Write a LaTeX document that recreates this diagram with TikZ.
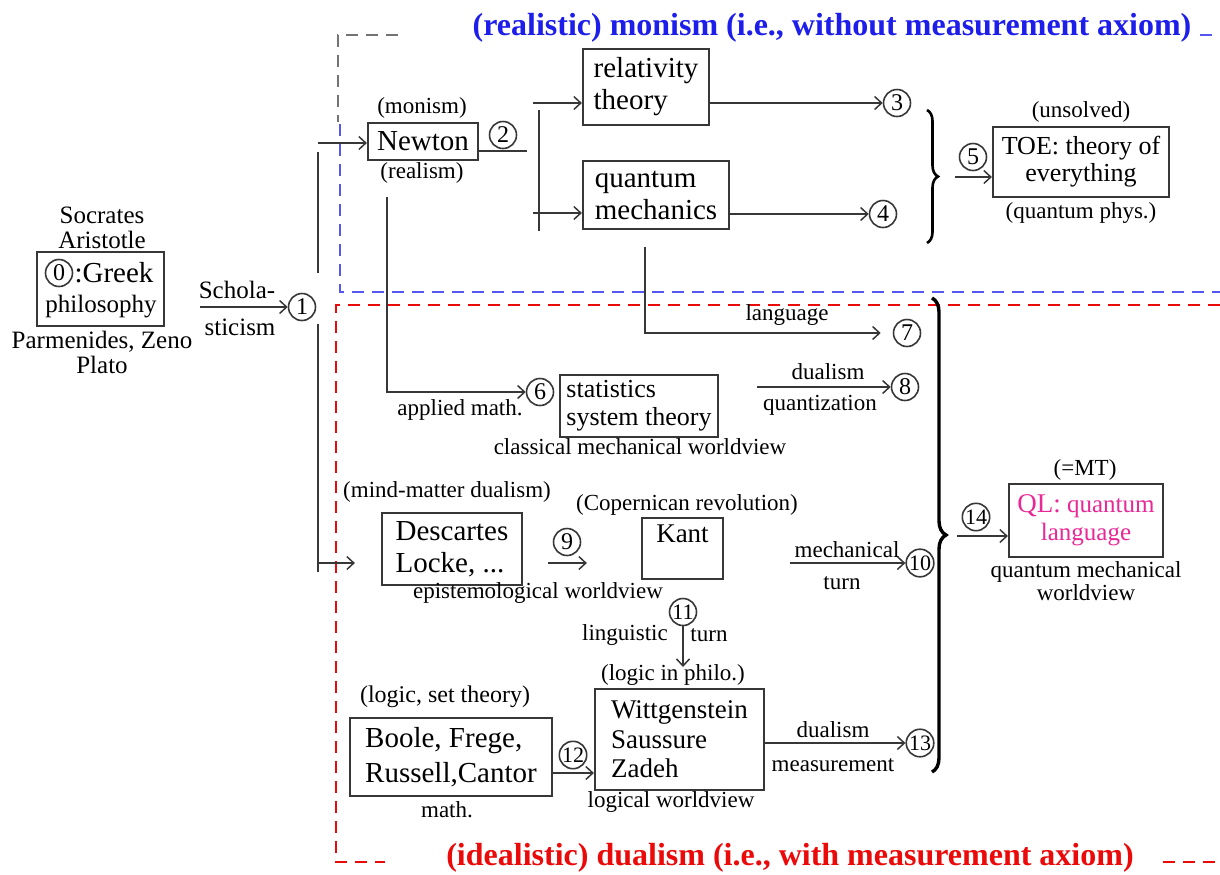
\documentclass[tikz,border=0pt]{standalone}
\usepackage{fontspec}
\setmainfont{Liberation Serif}
\usetikzlibrary{arrows.meta,decorations.pathreplacing}
\definecolor{monblue}{RGB}{30,30,235}
\definecolor{dualred}{RGB}{235,10,10}
\definecolor{qlpink}{RGB}{232,40,150}
\definecolor{frame}{RGB}{55,55,55}
\begin{document}
\begin{tikzpicture}[x=0.5pt, y=-0.5pt,
  box/.style={draw=frame, line width=1.1pt, inner xsep=0pt, inner ysep=0pt},
  num/.style={circle, draw=frame, line width=0.8pt, inner sep=0.2pt, minimum size=13.5pt, font=\fontsize{12}{12}\selectfont},
  numw/.style={num, font=\fontsize{11}{11}\selectfont},
  arr/.style={draw=frame, line width=0.75pt, -{Straight Barb[length=3.5pt,width=6.5pt]}},
  conn/.style={draw=frame, line width=0.75pt},
  bigtxt/.style={font=\fontsize{14.5}{16}\selectfont},
  midtxt/.style={font=\fontsize{12.5}{14}\selectfont},
  lbl/.style={font=\fontsize{11.5}{13}\selectfont, inner sep=0pt},
  zone/.style={line width=1.1pt, dash pattern=on 6pt off 4pt},
  brc/.style={decorate, decoration={brace, amplitude=#1}, line width=1.3pt}]
  % Coordenadas em pixels do original (y para baixo): caixa azul = monismo, caixa
  % vermelha = dualismo; as chavetas juntam os numeros que desaguam em TOE e em QL.
  \useasboundingbox (0,0) rectangle (1220,874);
  \draw[zone, black!55] (398,35) -- (338,35) -- (338,122);
  \draw[zone, monblue!75] (340,124) -- (340,292) -- (1220,292);
  \draw[zone, monblue!75] (1200,35) -- (1220,35);
  \draw[zone, dualred] (1220,305) -- (336,305) -- (336,862) -- (385,862);
  \draw[zone, dualred] (1163,862) -- (1220,862);
  \node[font=\fontsize{16}{18}\selectfont\bfseries, text=monblue] (tmon) at (832,28) {(realistic) monism (i.e., without measurement axiom)};
  \node[font=\fontsize{16}{18}\selectfont\bfseries, text=dualred] (tdual) at (790,858) {(idealistic) dualism (i.e., with measurement axiom)};

  % Greek philosophy
  \node[midtxt] (socr) at (102,215) {Socrates};
  \node[midtxt] (arist) at (102,240) {Aristotle};
  \node[box, minimum width=63.5pt, minimum height=37pt] (greek) at (100.5,289) {};
  \node[num] (c0) at (59,273) {0};
  \node[bigtxt, inner sep=0pt] (greekt) at (114,273) {:Greek};
  \node[midtxt, inner sep=0pt] (philo) at (101,307) {philosophy};
  \node[midtxt] (parm) at (102,342) {Parmenides, Zeno};
  \node[midtxt] (plato) at (102,365) {Plato};
  \node[midtxt] (schola) at (237,290) {Schola-};
  \node[midtxt] (stic) at (240,327) {sticism};
  \node[num] (c1) at (302,307) {1};
  \coordinate (schA) at (200,307);
  \draw[arr] (schA) -- (c1);
  \coordinate (tkA) at (318,152);
  \coordinate (tkB) at (318,273);
  \coordinate (tkC) at (318,324);
  \coordinate (tkD) at (318,572);
  \draw[conn] (tkA) -- (tkB);
  \draw[conn] (tkC) -- (tkD);

  % Newton and the monistic branch
  \node[lbl] (monism) at (422,108) {(monism)};
  \node[box, bigtxt, minimum width=55pt, minimum height=18.5pt] (newton) at (423,141.5) {Newton};
  \node[lbl] (realism) at (422,173) {(realism)};
  \coordinate (nwA) at (318,143);
  \draw[arr] (nwA) -- (nwA -| newton.west);
  \node[num] (c2) at (503,135) {2};
  \coordinate (n2) at (527,151);
  \draw[conn] (n2 -| newton.east) -- (n2);
  \coordinate (fkT) at (539,110);
  \coordinate (fkB) at (539,231);
  \draw[conn] (fkT) -- (fkB);
  \node[box, bigtxt, align=left, minimum width=63pt, minimum height=38pt] (relat) at (646,87) {relativity\\theory};
  \node[box, bigtxt, align=left, minimum width=73pt, minimum height=34pt] (qmech) at (656,195) {quantum\\mechanics};
  \coordinate (fkA) at (533,103);
  \coordinate (fkC) at (533,213);
  \draw[arr] (fkA) -- (fkA -| relat.west);
  \draw[arr] (fkC) -- (fkC -| qmech.west);
  \node[num] (c3) at (897,103) {3};
  \node[num] (c4) at (883,214) {4};
  \draw[arr] (c3 -| relat.east) -- (c3);
  \draw[arr] (c4 -| qmech.east) -- (c4);
  \coordinate (bAT) at (927,110);
  \coordinate (bAB) at (927,243);
  \draw[brc=5.5pt] (bAT) -- (bAB);
  \node[lbl] (unsolved) at (1081,112) {(unsolved)};
  \node[box, align=center, font=\fontsize{13}{13.5}\selectfont, minimum width=88pt, minimum height=35pt] (toe) at (1081,162) {TOE: theory of\\everything};
  \node[lbl] (qphys) at (1081,213) {(quantum phys.)};
  \node[num] (c5) at (973,157) {5};
  \coordinate (toeA) at (955,177);
  \draw[arr] (toeA) -- (toeA -| toe.west);

  % classical mechanics
  \coordinate (lgA) at (645,247);
  \node[num] (c7) at (907,333) {7};
  \draw[arr, shorten >=6pt] (lgA) |- (c7);
  \node[lbl] (lang) at (787,315) {language};
  \coordinate (nvA) at (387,197);
  \node[num] (c6) at (540,392) {6};
  \draw[arr] (nvA) |- (c6);
  \node[lbl] (applm) at (460,410) {applied math.};
  \node[box, align=left, font=\fontsize{13}{14}\selectfont, minimum width=79pt, minimum height=31pt] (stat) at (639,406) {statistics\\system theory};
  \node[lbl] (classw) at (640,447) {classical mechanical worldview};
  \node[num] (c8) at (905,387) {8};
  \coordinate (quA) at (757,387);
  \draw[arr] (quA) -- (c8);
  \node[lbl] (dual1) at (828,372) {dualism};
  \node[lbl] (quant) at (820,405) {quantization};

  % epistemology
  \node[lbl] (mindm) at (447,492) {(mind-matter dualism)};
  \node[box, bigtxt, align=left, minimum width=70pt, minimum height=36pt] (desc) at (452,549) {Descartes\\Locke, ...};
  \coordinate (dsA) at (318,563);
  \draw[arr, shorten >=13pt] (dsA) -- (dsA -| desc.west);
  \node[lbl] (copern) at (687,505) {(Copernican revolution)};
  \node[box, font=\fontsize{13.5}{14}\selectfont, minimum width=40.5pt, text height=9pt, text depth=15pt, inner ysep=3.25pt] (kant) at (682.5,548.5) {Kant};
  \node[num] (c9) at (567,542) {9};
  \coordinate (nine) at (0,563);
  \draw[arr, shorten <=12.5pt, shorten >=27pt] (nine -| desc.east) -- (nine -| kant.west);
  \node[lbl] (epist) at (538,593) {epistemological worldview};
  \node[numw] (c10) at (920,563) {10};
  \coordinate (mtA) at (790,563);
  \draw[arr] (mtA) -- (c10);
  \node[lbl] (mech) at (847,550) {mechanical};
  \node[lbl] (turn1) at (842,583) {turn};
  \node[numw] (c11) at (683,612) {11};
  \coordinate (ltA) at (683,667);
  \draw[arr] (c11) -- (ltA);
  \node[lbl] (ling) at (625,635) {linguistic};
  \node[lbl] (turn2) at (709,635) {turn};

  % logic
  \node[lbl] (logph) at (673,675) {(logic in philo.)};
  \node[font=\fontsize{12}{13}\selectfont, inner sep=0pt] (logst) at (445,697) {(logic, set theory)};
  \node[box, align=left, font=\fontsize{14.5}{17.5}\selectfont, minimum width=101pt, minimum height=39pt] (boole) at (451,757) {Boole, Frege,\\Russell,Cantor};
  \node[lbl] (math) at (447,810) {math.};
  \node[box, align=left, font=\fontsize{13.5}{14.75}\selectfont, minimum width=84.5pt, minimum height=50.5pt] (witt) at (679.5,739.5) {Wittgenstein\\Saussure\\Zadeh};
  \node[lbl] (logw) at (671,802) {logical worldview};
  \node[numw] (c12) at (573,755) {12};
  \coordinate (tw) at (0,773);
  \draw[arr] (tw -| boole.east) -- (tw -| witt.west);
  \node[numw] (c13) at (920,743) {13};
  \draw[arr] (c13 -| witt.east) -- (c13);
  \node[lbl] (dual2) at (833,730) {dualism};
  \node[lbl] (meas) at (833,765) {measurement};

  % quantum language
  \coordinate (bBT) at (932,298);
  \coordinate (bBB) at (932,772);
  \draw[brc=7pt, line width=1.7pt] (bBT) -- (bBB);
  \node[lbl] (mt) at (1085,470) {(=MT)};
  \node[box, align=center, text=qlpink, font=\fontsize{12.5}{14}\selectfont, minimum width=77pt, minimum height=36.5pt] (ql) at (1086,520.5) {{\fontsize{13.5}{14}\selectfont QL:} quantum\\language};
  \node[lbl, align=center, font=\fontsize{11.5}{11.5}\selectfont] (qmw) at (1086,581) {quantum mechanical\\worldview};
  \node[numw] (c14) at (976,517) {14};
  \coordinate (qlA) at (957,536);
  \draw[arr] (qlA) -- (qlA -| ql.west);
\end{tikzpicture}
\end{document}
